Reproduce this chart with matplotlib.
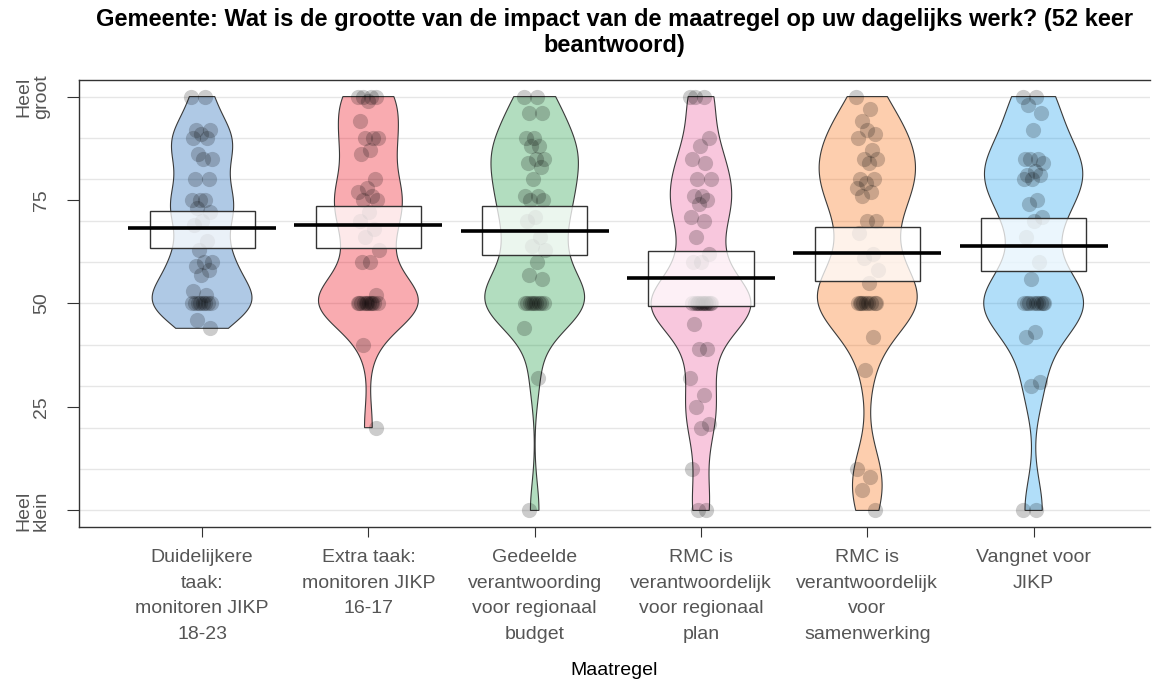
import numpy as np
import matplotlib
matplotlib.use("Agg")
import matplotlib.pyplot as plt
from matplotlib.patches import Polygon, Rectangle

plt.rcParams['font.family'] = ['Liberation Sans', 'DejaVu Sans']

# antwoorden per maatregel (0 = heel klein, 100 = heel groot)
categories = [
    "Duidelijkere\ntaak:\nmonitoren JIKP\n18-23",
    "Extra taak:\nmonitoren JIKP\n16-17",
    "Gedeelde\nverantwoording\nvoor regionaal\nbudget",
    "RMC is\nverantwoordelijk\nvoor regionaal\nplan",
    "RMC is\nverantwoordelijk\nvoor\nsamenwerking",
    "Vangnet voor\nJIKP",
]
duidelijkere_taak = [100, 100, 92, 92, 91, 90, 90, 86, 85, 85, 80, 80, 75, 75, 75, 73, 72, 70, 69,
                     65, 63, 60, 60, 59, 58, 57, 53, 52, 50, 50, 50, 50, 50, 50, 50, 50, 46, 44]
extra_taak = [100, 100, 100, 100, 99, 94, 90, 90, 90, 87, 86, 80, 78, 77, 76, 75, 75, 72, 70, 68,
              66, 63, 60, 60, 52, 50, 50, 50, 50, 50, 50, 50, 50, 50, 50, 50, 40, 20]
gedeelde_verantw = [100, 100, 96, 96, 90, 90, 88, 88, 85, 85, 84, 83, 80, 76, 76, 75, 75, 71, 70,
                    66, 64, 63, 60, 57, 56, 50, 50, 50, 50, 50, 50, 50, 50, 50, 44, 32, 0]
rmc_plan = [100, 100, 100, 90, 88, 85, 84, 80, 80, 76, 76, 75, 74, 71, 70, 66, 62, 60, 60,
            50, 50, 50, 50, 50, 50, 50, 50, 50, 50, 50, 50, 45, 39, 39, 32, 28, 25, 21, 20, 10, 0, 0]
rmc_samenwerking = [100, 97, 94, 91, 92, 90, 87, 85, 85, 84, 80, 80, 79, 78, 77, 76, 70, 70, 67,
                    62, 61, 58, 55, 50, 50, 50, 50, 50, 50, 50, 50, 50, 42, 34, 10, 8, 5, 0]
vangnet = [100, 100, 98, 96, 92, 85, 85, 85, 84, 82, 81, 81, 80, 80, 75, 74, 71, 70, 66, 60, 56,
           50, 50, 50, 50, 50, 50, 50, 50, 50, 43, 42, 31, 30, 0, 0]
groups = [duidelijkere_taak, extra_taak, gedeelde_verantw, rmc_plan, rmc_samenwerking, vangnet]

# interval rond het gemiddelde (HDI)
hdi_lo = [63.5, 63.4, 61.7, 49.4, 55.5, 57.8]
hdi_hi = [72.3, 73.6, 73.6, 62.7, 68.6, 70.6]

colors = ["#0C5BB0", "#EE0011", "#15983D", "#EC579A", "#FA6B09", "#149BED"]


def bw_nrd0(v):
    sd = v.std(ddof=1)
    q75, q25 = np.percentile(v, [75, 25])
    lo = min(sd, (q75 - q25) / 1.34)
    if lo == 0:
        lo = sd
    return 0.9 * lo * len(v) ** -0.2


def bean(v, width=0.3, adjust=0.7):
    bw = bw_nrd0(v) * adjust
    ys = np.linspace(v.min(), v.max(), 300)
    d = np.exp(-0.5 * ((ys[:, None] - v[None, :]) / bw) ** 2).sum(axis=1)
    return ys, d / d.max() * width


fig = plt.figure(figsize=(11.55, 6.82), dpi=100)
ax = fig.add_axes([0.0684, 0.2273, 0.9273, 0.6554])

for yv in range(0, 101, 10):
    ax.axhline(yv, color="#E6E6E6", lw=1, zorder=0)

for i, vals in enumerate(groups):
    c = i + 1
    v = np.array(vals, dtype=float)
    ys, w = bean(v)
    xs = np.concatenate([c - w, (c + w)[::-1]])
    yy = np.concatenate([ys, ys[::-1]])
    ax.add_patch(Polygon(np.column_stack([xs, yy]), closed=True, facecolor=colors[i],
                         alpha=0.33, edgecolor="none", zorder=1))
    ax.add_patch(Polygon(np.column_stack([xs, yy]), closed=True, facecolor="none",
                         edgecolor="#3A3A3A", lw=0.8, zorder=2))

    # horizontale spreiding van de punten
    jit = ((np.arange(len(v)) * 0.618034) % 1 - 0.5) * 0.13
    ax.scatter(c + jit, v, s=120, color="black", alpha=0.2, linewidths=0, zorder=3)

    ax.add_patch(Rectangle((c - 0.316, hdi_lo[i]), 0.632, hdi_hi[i] - hdi_lo[i],
                           facecolor=(1, 1, 1, 0.75), edgecolor="#333333", lw=1, zorder=4))
    ax.hlines(v.mean(), c - 0.445, c + 0.445, color="black", lw=2.6, zorder=5)

ax.set_xlim(0.26, 6.70)
ax.set_ylim(-4, 104)

ax.set_yticks([0, 25, 50, 75, 100])
ax.set_yticklabels(["Heel\nklein", "25", "50", "75", "Heel\ngroot"], rotation=90,
                   va="center", multialignment="center", linespacing=1.0)
ax.set_xticks(range(1, 7))
ax.set_xticklabels(categories, linespacing=1.65)
ax.tick_params(axis="y", length=9, width=0.8, color="#333333", labelcolor="#555555",
               labelsize=14, pad=12)
ax.tick_params(axis="x", length=7, width=0.8, color="#333333", labelcolor="#555555",
               labelsize=14, pad=9)

for side in ["left", "bottom", "top"]:
    ax.spines[side].set_color("#333333")
    ax.spines[side].set_linewidth(1)
ax.spines["right"].set_visible(False)

ax.set_xlabel("Maatregel", fontsize=14, labelpad=14)
ax.set_title("Gemeente: Wat is de grootte van de impact van de maatregel op uw dagelijks werk? (52 keer\nbeantwoord)",
             fontsize=17, fontweight="bold", pad=20, linespacing=1.2)

fig.savefig("out.png", dpi=100)
